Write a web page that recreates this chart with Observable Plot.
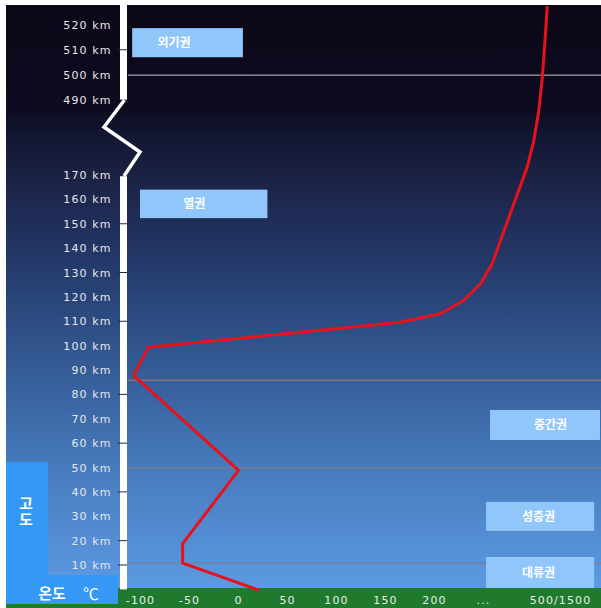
<!DOCTYPE html>
<html><head><meta charset="utf-8">
<script src="https://cdn.jsdelivr.net/npm/d3@7"></script>
<script src="https://cdn.jsdelivr.net/npm/@observablehq/plot@0.6"></script>
<style>
html,body{margin:0;padding:0;background:#fff;}
#chart svg{display:block;}
</style></head><body><div id="chart"></div>
<script>
// ---- data ----
const altitudeKm   = [0, 11, 19, 49, 88, 99.5, 105.7, 109.8, 113.3, 118.8, 125.6, 133.8, 143.3, 158.4, 205, 318, 445.5, 495.1, 498.5, 516.6, 527.3];
const temperatureC = [20, -57, -57, 0, -107, -92, 63, 165, 206, 230, 247, 391, 526, 742, 959, 1067, 1148, 1187, 1203, 1256, 1284];
const yTicks = [10, 20, 30, 40, 50, 60, 70, 80, 90, 100, 110, 120, 130, 140, 150, 160, 170, 490, 500, 510, 520];
const xTicks = [-100, -50, 0, 50, 100, 150, 200, 250, 1500];
const xTickLabels = ["-100", "-50", "0", "50", "100", "150", "200", "...", "500/1500"];
const layerNames = ["외기권", "열권", "중간권", "성층권", "대류권"];
const layerTopKm = [518.7, 164, 73.6, 35.9, 13.3];
const layerBottomKm = [507, 152.3, 61.3, 24, 0.6];
const boundaryKm = [11, 50, 86, 500];
const barTickKm = [10, 20, 40, 60, 80, 110, 130, 150, 510];

// ---- layout (not data) ----
const layerBoxT = [[-108, 5], [-100, 30], [364, 2149], [299, 2055], [299, 2055]];
const layerTextDx = [-14, -10, 5, -2, -2];

const profile = altitudeKm.map((a, i) => ({alt: a, t: temperatureC[i]}));
const layers = layerNames.map((n, i) => ({
  name: n, y1: layerBottomKm[i], y2: layerTopKm[i],
  x1: layerBoxT[i][0], x2: layerBoxT[i][1], dx: layerTextDx[i]
}));

const plot = Plot.plot({
  width: 601, height: 608,
  marginLeft: 128, marginRight: 0, marginTop: 5, marginBottom: 20,
  style: {background: "transparent", fontFamily: "DejaVu Sans", overflow: "visible"},
  x: {type: "linear", domain: [-100, 250, 1500], range: [140, 483, 560]},
  y: {type: "linear", domain: [0, 170, 490, 528], range: [589.4, 175, 99.5, 5]},
  marks: [
    Plot.ruleY(boundaryKm, {filter: d => d === 500, stroke: "#c4c4cc", strokeWidth: 1}),
    Plot.ruleY(boundaryKm, {filter: d => d === 86, stroke: "#b07c5c", strokeWidth: 1}),
    Plot.ruleY(boundaryKm, {filter: d => d < 60, stroke: "#877c7c", strokeWidth: 1}),
    Plot.rect(layers, {x1: "x1", x2: "x2", y1: "y1", y2: "y2", fill: "#90c6fa"}),
    ...layers.map(l => Plot.text([l], {
      x: d => (d.x1 + d.x2) / 2, y: d => (d.y1 + d.y2) / 2, text: "name",
      dx: l.dx, fill: "white", fontSize: 12, fontWeight: "bold",
      fontFamily: "Noto Sans CJK KR"
    })),
    Plot.line(profile, {x: "t", y: "alt", stroke: "#e8121c", strokeWidth: 3, strokeLinejoin: "round"}),
    Plot.axisY({ticks: yTicks, tickFormat: d => `${d} km`, tickSize: 0, tickPadding: 17,
      fill: "#e6e6ea", fontSize: 11}),
    Plot.axisX({ticks: xTicks, tickFormat: d => xTickLabels[xTicks.indexOf(d)], tickSize: 0,
      tickPadding: 8, fill: "#e8eee8", fontSize: 11})
  ]
});

const svg = d3.select(plot);
const ys = plot.scale("y");
svg.selectAll('g[aria-label="y-axis tick label"] text, g[aria-label="x-axis tick label"] text')
  .attr("letter-spacing", "1.1");

// background layer
const back = svg.insert("g", ":first-child");
const grad = back.append("defs").append("linearGradient")
  .attr("id", "bgGrad").attr("x1", 0).attr("y1", 0).attr("x2", 0).attr("y2", 1);
[[0, "#0c0818"], [0.17, "#0e0b20"], [0.215, "#111632"], [0.28, "#1b2142"], [0.355, "#1f2d57"],
 [0.455, "#263e70"], [0.555, "#30528a"], [0.655, "#3a65a2"], [0.755, "#4679ba"],
 [0.87, "#528bd0"], [0.967, "#5b9ae2"], [1, "#5b9ae2"]]
  .forEach(([o, c]) => grad.append("stop").attr("offset", o).attr("stop-color", c));
back.append("rect").attr("x", 6).attr("y", 5).attr("width", 595).attr("height", 603).attr("fill", "url(#bgGrad)");
back.append("rect").attr("x", 6).attr("y", 588).attr("width", 595).attr("height", 20).attr("fill", "#1f7a2e");

// left label boxes
const front = svg.append("g");
front.append("rect").attr("x", 6).attr("y", 462).attr("width", 42).attr("height", 114).attr("fill", "#3598f4");
front.append("rect").attr("x", 6).attr("y", 575).attr("width", 112).attr("height", 29).attr("fill", "#3598f4");
const kfont = "Noto Sans CJK KR";
front.append("text").attr("x", 26).attr("y", 512)
  .style("writing-mode", "vertical-rl").style("text-orientation", "upright")
  .attr("fill", "white").attr("font-size", 15).attr("font-weight", "bold").attr("font-family", kfont)
  .attr("letter-spacing", "1").text("고도");
front.append("text").attr("x", 52).attr("y", 592).attr("text-anchor", "middle").attr("dominant-baseline", "central")
  .attr("fill", "white").attr("font-size", 15).attr("font-weight", "bold").attr("font-family", kfont).text("온도");
front.append("text").attr("x", 91).attr("y", 593).attr("text-anchor", "middle").attr("dominant-baseline", "central")
  .attr("fill", "white").attr("font-size", 16).attr("font-family", kfont).text("℃");

// axis bar with break
front.append("rect").attr("x", 120).attr("y", 5).attr("width", 7).attr("height", ys.apply(489.5) - 5).attr("fill", "white");
front.append("rect").attr("x", 120).attr("y", ys.apply(169.5)).attr("width", 7)
  .attr("height", ys.apply(0) - ys.apply(169.5)).attr("fill", "white");
front.append("polyline").attr("points", "124.5,100 104,127 140,152 124,176")
  .attr("fill", "none").attr("stroke", "white").attr("stroke-width", 3.5).attr("stroke-linejoin", "miter");
barTickKm.forEach(k => {
  front.append("line").attr("x1", 118).attr("x2", 127).attr("y1", ys.apply(k)).attr("y2", ys.apply(k))
    .attr("stroke", "#2a2a30").attr("stroke-width", 1);
});

document.getElementById("chart").appendChild(plot);
</script></body></html>
